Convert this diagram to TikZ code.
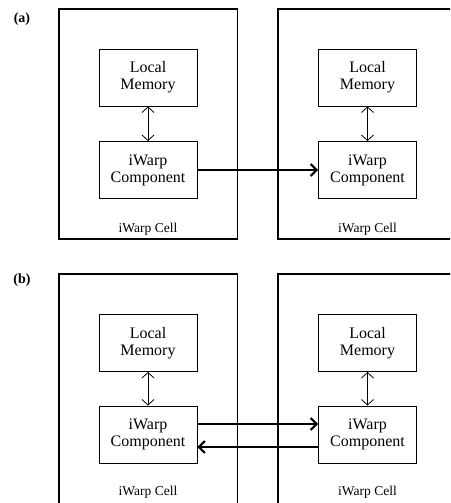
\documentclass[tikz,border=0pt]{standalone}
\usepackage{fontspec}
\setmainfont{Liberation Serif}
\usetikzlibrary{arrows.meta}
\begin{document}
\begin{tikzpicture}[x=1pt,y=-1pt,
  cellbox/.style={draw,line width=1.8pt,inner sep=0pt},
  unitbox/.style={draw,line width=0.9pt,minimum width=98pt,minimum height=57pt,inner sep=0pt,align=center,font=\fontsize{16}{17}\selectfont},
  celllabel/.style={inner sep=0pt,font=\fontsize{13.5}{14}\selectfont},
  partlabel/.style={inner sep=0pt,font=\fontsize{14}{15}\selectfont\bfseries},
  memlink/.style={line width=0.8pt,{Straight Barb[length=5.5pt,width=12pt]}-{Straight Barb[length=5.5pt,width=12pt]}},
  netlink/.style={line width=2pt,-{Straight Barb[length=6pt,width=12pt]}}
]
\clip (0,0) rectangle (450,503);
% ---------- (a) ----------
\node[partlabel] (pa) at (22,19) {(a)};
\node[cellbox,minimum width=178.5pt,minimum height=230pt] (cA1) at (148.25,124) {};
\node[cellbox,minimum width=184pt,minimum height=230pt] (cA2) at (370,124) {};
\node[unitbox] (mA1) at (148,77.5) {Local\\Memory};
\node[unitbox] (wA1) at (148,170) {iWarp\\Component};
\node[unitbox] (mA2) at (367.5,77.5) {Local\\Memory};
\node[unitbox] (wA2) at (367.5,170) {iWarp\\Component};
\node[celllabel] (lA1) at (148,229) {iWarp Cell};
\node[celllabel] (lA2) at (367.5,229) {iWarp Cell};
\draw[memlink] (mA1) -- (wA1);
\draw[memlink] (mA2) -- (wA2);
\draw[netlink] (wA1) -- (wA2);
% ---------- (b) ----------
\node[partlabel] (pb) at (22,280) {(b)};
\node[cellbox,minimum width=178.5pt,minimum height=260pt] (cB1) at (148.25,404) {};
\node[cellbox,minimum width=184pt,minimum height=260pt] (cB2) at (370,404) {};
\node[unitbox] (mB1) at (148,343) {Local\\Memory};
\node[unitbox] (wB1) at (148,434.5) {iWarp\\Component};
\node[unitbox] (mB2) at (367.5,343) {Local\\Memory};
\node[unitbox] (wB2) at (367.5,434.5) {iWarp\\Component};
\node[celllabel] (lB1) at (148,492) {iWarp Cell};
\node[celllabel] (lB2) at (367.5,492) {iWarp Cell};
\draw[memlink] (mB1) -- (wB1);
\draw[memlink] (mB2) -- (wB2);
\draw[netlink] ([yshift=10.5pt]wB1.east) -- ([yshift=10.5pt]wB2.west);
\draw[netlink] ([yshift=-12.5pt]wB2.west) -- ([yshift=-12.5pt]wB1.east);
\end{tikzpicture}
\end{document}
